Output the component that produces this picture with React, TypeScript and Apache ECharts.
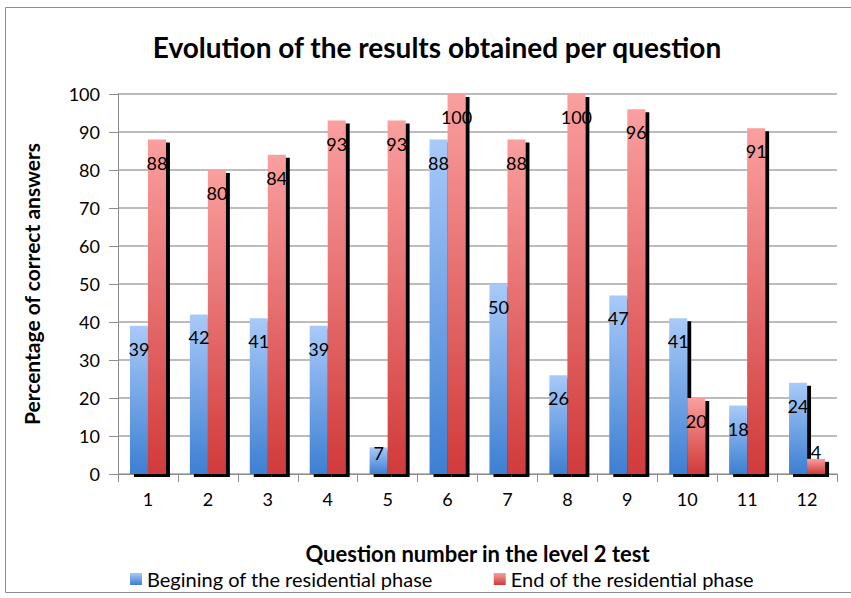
import React, { useEffect, useRef } from "react";
import * as echarts from "echarts";

const categories = ["1", "2", "3", "4", "5", "6", "7", "8", "9", "10", "11", "12"];
const beginValues = [39, 42, 41, 39, 7, 88, 50, 26, 47, 41, 18, 24];
const endValues = [88, 80, 84, 93, 93, 100, 88, 100, 96, 20, 91, 4];
const seriesNames = ["Begining of the residential phase", "End of the residential phase"];
const titleText = "Evolution of the results obtained per question";
const xAxisTitle = "Question number in the level 2 test";
const yAxisTitle = "Percentage of correct answers";

const FONT = "Lato, 'Open Sans', sans-serif";

function grad(top: string, bottom: string) {
  return new echarts.graphic.LinearGradient(0, 0, 0, 1, [
    { offset: 0, color: top },
    { offset: 1, color: bottom },
  ]);
}

function buildData(values: number[]) {
  return values.map((v) => {
    if (v < 5) {
      return { value: v, label: { position: "top", distance: -2 } };
    }
    if (v < 10) {
      return { value: v, label: { position: "insideTop", distance: -3 } };
    }
    return { value: v };
  });
}

export default function App() {
  const ref = useRef<HTMLDivElement>(null);
  useEffect(() => {
    if (!ref.current) return;
    const chart = echarts.init(ref.current, undefined, { renderer: "svg" });
    const blue = grad("#a8caf9", "#3d7fd2");
    const red = grad("#fa9f9f", "#d13a3a");
    const labelCfg = {
      show: true,
      position: "insideTop",
      distance: 14,
      color: "#000",
      fontFamily: FONT,
      fontSize: 18,
    };
    chart.setOption({
      animation: false,
      backgroundColor: "#fff",
      graphic: [
        {
          type: "rect",
          shape: { x: 5.5, y: 7.5, width: 850, height: 585 },
          style: { fill: "none", stroke: "#8c8c8c", lineWidth: 1 },
          silent: true,
        },
      ],
      title: {
        text: titleText,
        left: 432,
        textAlign: "center",
        top: 28,
        textStyle: { fontFamily: FONT, fontWeight: "bold", fontSize: 28, color: "#000" },
      },
      legend: {
        data: seriesNames,
        left: 125,
        top: 564,
        icon: "rect",
        itemWidth: 12,
        itemHeight: 12,
        itemGap: 61,
        textStyle: { fontFamily: FONT, fontSize: 20, color: "#000" },
      },
      grid: { left: 118, right: 14, top: 94, bottom: 124 },
      xAxis: {
        type: "category",
        data: categories,
        name: xAxisTitle,
        nameLocation: "middle",
        nameGap: 68,
        nameTextStyle: { fontFamily: FONT, fontWeight: "bold", fontSize: 22, color: "#000" },
        axisLine: { lineStyle: { color: "#8c8c8c", width: 1 } },
        axisTick: { show: true, length: 8, lineStyle: { color: "#8c8c8c" } },
        axisLabel: { fontFamily: FONT, fontSize: 18, color: "#000", margin: 16 },
      },
      yAxis: {
        type: "value",
        min: 0,
        max: 100,
        interval: 10,
        name: yAxisTitle,
        nameLocation: "middle",
        nameGap: 76,
        nameTextStyle: { fontFamily: FONT, fontWeight: "bold", fontSize: 21, color: "#000" },
        axisLine: { show: true, lineStyle: { color: "#8c8c8c", width: 1 } },
        axisTick: { show: true, length: 9, lineStyle: { color: "#8c8c8c" } },
        axisLabel: { fontFamily: FONT, fontSize: 18, color: "#000", margin: 18 },
        splitLine: { lineStyle: { color: "#a6a6a6", width: 1.5 } },
      },
      series: [
        {
          name: seriesNames[0],
          type: "bar",
          data: buildData(beginValues),
          barWidth: 18,
          barGap: "0%",
          itemStyle: {
            color: blue,
            shadowColor: "#000",
            shadowBlur: 0,
            shadowOffsetX: 4,
            shadowOffsetY: 3,
          },
          label: labelCfg,
        },
        {
          name: seriesNames[1],
          type: "bar",
          data: buildData(endValues),
          barWidth: 18,
          barGap: "0%",
          itemStyle: {
            color: red,
            shadowColor: "#000",
            shadowBlur: 0,
            shadowOffsetX: 4,
            shadowOffsetY: 3,
          },
          label: labelCfg,
        },
      ],
    });
    return () => chart.dispose();
  }, []);
  return (
    <div
      ref={ref}
      style={{ position: "fixed", left: 0, top: 0, width: 851, height: 598 }}
    />
  );
}
